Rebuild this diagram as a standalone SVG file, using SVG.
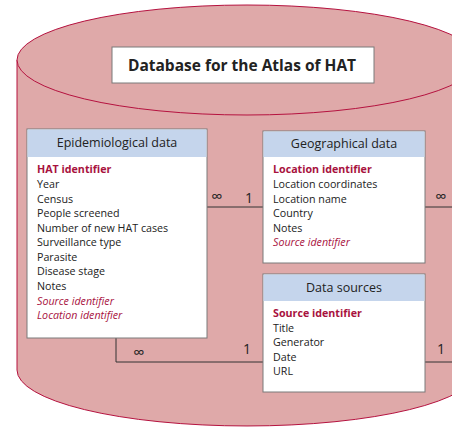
<svg xmlns="http://www.w3.org/2000/svg" width="452" height="429" viewBox="0 0 452 429">
<style>
text{font-family:"Open Sans","Noto Sans","Liberation Sans",sans-serif;fill:#222}
.cyl{fill:#dfa9a9;stroke:#b5123f;stroke-width:1}
.box{fill:#fff;stroke:#7a7a7a;stroke-width:1}
.hdr{fill:#c5d5ec}
.ht{font-size:12.5px;text-anchor:middle}
.it{font-size:10.7px}
.key{fill:#a8123e;font-weight:bold}
.fk{fill:#a8123e;font-style:italic}
.ln{stroke:#333;stroke-width:1;fill:none}
.inf{font-size:16px}
.one{font-size:14px}
</style>
<g id="database">
<path class="cyl" d="M17,60 L17,370 A230,56 0 0 0 477,370 L477,60"/>
<ellipse class="cyl" cx="247" cy="60" rx="230" ry="55"/>
<rect class="box" x="112" y="47" width="262" height="36"/>
<text x="242" y="71" text-anchor="middle" style="font-size:15.5px;font-weight:bold">Database for the Atlas of HAT</text>
</g>
<g id="connectors">
<line class="ln" x1="207" y1="207" x2="263" y2="207"/>
<line class="ln" x1="425" y1="207" x2="452" y2="207"/>
<polyline class="ln" points="116,338 116,362 263,362"/>
<line class="ln" x1="425" y1="362" x2="452" y2="362"/>
<text class="inf" x="217" y="202" text-anchor="middle">∞</text>
<text class="one" x="249" y="203" text-anchor="middle">1</text>
<text class="inf" x="441" y="202" text-anchor="middle">∞</text>
<text class="inf" x="139" y="358" text-anchor="middle">∞</text>
<text class="one" x="247" y="354" text-anchor="middle">1</text>
<text class="one" x="441" y="354" text-anchor="middle">1</text>
</g>
<g id="epidemiological">
<rect class="box" x="27" y="129" width="180" height="209"/>
<rect class="hdr" x="27.5" y="129.5" width="179" height="27.5"/>
<text class="ht" x="117" y="147">Epidemiological data</text>
<text class="it key" x="37" y="173">HAT identifier</text>
<text class="it" x="37" y="188">Year</text>
<text class="it" x="37" y="203">Census</text>
<text class="it" x="37" y="217">People screened</text>
<text class="it" x="37" y="232">Number of new HAT cases</text>
<text class="it" x="37" y="246">Surveillance type</text>
<text class="it" x="37" y="261">Parasite</text>
<text class="it" x="37" y="275">Disease stage</text>
<text class="it" x="37" y="290">Notes</text>
<text class="it fk" x="37" y="305">Source identifier</text>
<text class="it fk" x="37" y="319">Location identifier</text>
</g>
<g id="geographical">
<rect class="box" x="263" y="131" width="162" height="132"/>
<rect class="hdr" x="263.5" y="131.5" width="161" height="25.5"/>
<text class="ht" x="344" y="148">Geographical data</text>
<text class="it key" x="273" y="173">Location identifier</text>
<text class="it" x="273" y="188">Location coordinates</text>
<text class="it" x="273" y="203">Location name</text>
<text class="it" x="273" y="217">Country</text>
<text class="it" x="273" y="232">Notes</text>
<text class="it fk" x="273" y="246">Source identifier</text>
</g>
<g id="datasources">
<rect class="box" x="263" y="274" width="162" height="118"/>
<rect class="hdr" x="263.5" y="274.5" width="161" height="26.5"/>
<text class="ht" x="344" y="292">Data sources</text>
<text class="it key" x="273" y="317">Source identifier</text>
<text class="it" x="273" y="332">Title</text>
<text class="it" x="273" y="346">Generator</text>
<text class="it" x="273" y="361">Date</text>
<text class="it" x="273" y="375">URL</text>
</g>
</svg>
